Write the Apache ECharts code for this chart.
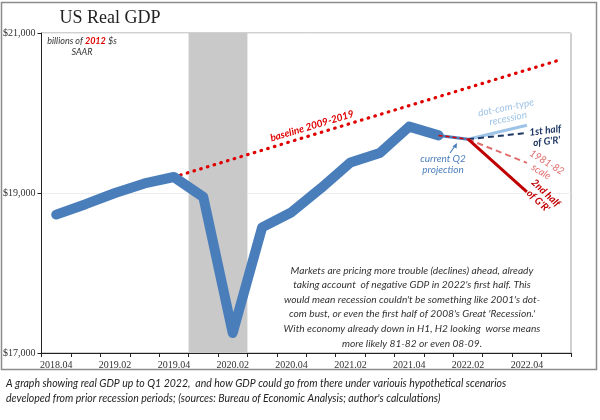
<!DOCTYPE html>
<html>
<head>
<meta charset="utf-8">
<script src="https://cdn.jsdelivr.net/npm/echarts@6/dist/echarts.min.js"></script>
<style>
  html, body { margin: 0; padding: 0; background: #fff; }
  #chart { width: 600px; height: 420px; }
</style>
</head>
<body>
<div id="chart"></div>
<script>
// quarters on the x axis (last one has no label)
var quarters = ['2018.04', '2019.01', '2019.02', '2019.03', '2019.04',
  '2020.01', '2020.02', '2020.03', '2020.04', '2021.01', '2021.02',
  '2021.03', '2021.04', '2022.01', '2022.02', '2022.03', '2022.04', '2023.01']

// real GDP, billions of 2012 $, SAAR
var gdp = [18730, 18860, 19000, 19120, 19200, 18950, 17250, 18570, 18760,
  19060, 19380, 19500, 19830, 19720, null, null, null, null]

// 2009-2019 trend line (two end points, joined)
var baseline = [null, null, null, null, 19200, null, null, null, null,
  null, null, null, null, null, null, null, null, 20650]

// projections
var q2Projection = [null, null, null, null, null, null, null, null, null,
  null, null, null, null, 19720, 19672, null, null, null]
var dotCom = [null, null, null, null, null, null, null, null, null,
  null, null, null, null, null, 19672, null, 19847, null]
var firstHalfGR = [null, null, null, null, null, null, null, null, null,
  null, null, null, null, null, 19672, null, 19751, null]
var scale8182 = [null, null, null, null, null, null, null, null, null,
  null, null, null, null, null, 19672, null, 19376, null]
var secondHalfGR = [null, null, null, null, null, null, null, null, null,
  null, null, null, null, null, 19672, null, 19014, null]

// COVID recession shading
var recession = [null, null, null, null, null, 21000, 21000, null, null,
  null, null, null, null, null, null, null, null, null]

var yTicks = [17000, 19000, 21000]

var noteLines = [
  'Markets are pricing more trouble (declines) ahead, already',
  "taking account  of negative GDP in 2022's first half. This",
  "would mean recession couldn't be something like 2001's dot-",
  "com bust, or even the first half of 2008's Great 'Recession.'",
  'With economy already down in H1, H2 looking  worse means',
  'more likely 81-82 or even 08-09.'
]
var captionLines = [
  'A graph showing real GDP up to Q1 2022,  and how GDP could go from there under variouis hypothetical scenarios',
  "developed from prior recession periods; (sources: Bureau of Economic Analysis; author's calculations)"
]

var sans = 'Lato, "Open Sans", sans-serif'
var serif = '"Liberation Serif", "DejaVu Serif", serif'

function projLine(data, color, width, type, z) {
  return {
    type: 'line',
    data: data,
    connectNulls: true,
    symbol: 'none',
    z: z,
    lineStyle: { color: color, width: width, type: type }
  }
}

function italicText(x, y, text, color, size, rot, bold) {
  return {
    type: 'text',
    x: x,
    y: y,
    rotation: rot || 0,
    z: 20,
    style: {
      text: text,
      fill: color,
      font: 'italic ' + (bold ? 'bold ' : '') + size + 'px ' + sans,
      textAlign: 'center',
      textVerticalAlign: 'middle',
      lineHeight: size + 1
    }
  }
}

var chart = echarts.init(document.getElementById('chart'))

var option = {
  animation: false,
  backgroundColor: '#fff',
  grid: {
    left: 40,
    right: 29,
    top: 33,
    bottom: 67,
    show: true,
    borderColor: '#a0a0a0',
    borderWidth: 1
  },
  xAxis: {
    type: 'category',
    data: quarters,
    boundaryGap: true,
    axisLine: { lineStyle: { color: '#222', width: 1 } },
    axisTick: { show: true, interval: 0, length: 4, lineStyle: { color: '#222' } },
    axisLabel: {
      interval: 1,
      margin: 7,
      color: '#333',
      fontFamily: serif,
      fontSize: 10
    },
    splitLine: { show: false }
  },
  yAxis: {
    type: 'value',
    min: yTicks[0],
    max: yTicks[yTicks.length - 1],
    interval: 2000,
    axisLine: { show: true, lineStyle: { color: '#222', width: 1 } },
    axisTick: { show: true, length: 4, lineStyle: { color: '#222' } },
    axisLabel: {
      margin: 6,
      color: '#333',
      fontFamily: serif,
      fontSize: 10,
      formatter: function (v) {
        return '$' + v.toLocaleString('en-US')
      }
    },
    splitLine: { show: true, lineStyle: { color: '#ececec' } }
  },
  series: [
    {
      type: 'bar',
      data: recession,
      barCategoryGap: '0%',
      barWidth: '100%',
      z: 1,
      itemStyle: { color: '#c9c9c9' }
    },
    {
      type: 'line',
      data: baseline,
      connectNulls: true,
      symbol: 'none',
      z: 3,
      lineStyle: { color: '#e00000', width: 3.2, type: [0.6, 6.4], cap: 'round' }
    },
    {
      type: 'line',
      data: gdp,
      symbol: 'none',
      z: 4,
      lineStyle: { color: '#4a7ebb', width: 10, cap: 'round', join: 'round' }
    },
    projLine(q2Projection, '#4a7ebb', 3, 'solid', 5),
    projLine(q2Projection, '#e00000', 1.5, [4, 3], 6),
    projLine(dotCom, '#9dc3e6', 3, 'solid', 5),
    projLine(firstHalfGR, '#1f3864', 2, [6, 4], 5),
    projLine(scale8182, '#e06c6c', 2, [6, 4], 5),
    projLine(secondHalfGR, '#c00000', 3, 'solid', 5)
  ],
  graphic: [
    {
      type: 'rect',
      z: 0,
      silent: true,
      shape: { x: 1.5, y: 2.5, width: 595, height: 367 },
      style: { fill: 'none', stroke: '#8c8c8c', lineWidth: 1.5 }
    },
    {
      type: 'text',
      x: 110,
      y: 18,
      style: {
        text: 'US Real GDP',
        fill: '#222',
        font: '18px ' + serif,
        textAlign: 'center',
        textVerticalAlign: 'middle'
      }
    },
    {
      type: 'text',
      x: 82,
      y: 47,
      z: 20,
      style: {
        text: '{a|billions of }{b|2012}{a| $s}\n{a|SAAR}',
        textAlign: 'center',
        textVerticalAlign: 'middle',
        rich: {
          a: { font: 'italic 9px ' + sans, fill: '#333', lineHeight: 11 },
          b: { font: 'italic bold 9px ' + sans, fill: '#e00000', lineHeight: 11 }
        }
      }
    },
    italicText(312, 126, 'baseline 2009-2019', '#e00000', 10, 0.29, true),
    italicText(507, 113, 'dot-com-type\nrecession', '#9dc3e6', 10, 0.2, false),
    italicText(546, 136, "1st half\nof G'R'", '#1f3864', 10, 0.12, true),
    italicText(544, 167, '1981-82\nscale', '#e06c6c', 10, -0.55, false),
    italicText(542, 197, "2nd half\nof G'R'", '#c00000', 10, -0.75, true),
    italicText(443, 164, 'current Q2\nprojection', '#4a7ebb', 10, 0, false),
    {
      type: 'line',
      z: 20,
      shape: { x1: 450, y1: 153, x2: 455, y2: 146 },
      style: { stroke: '#4a7ebb', lineWidth: 1.2 }
    },
    {
      type: 'polygon',
      z: 20,
      shape: { points: [[457, 143], [452.5, 146.2], [456.6, 148.6]] },
      style: { fill: '#4a7ebb' }
    },
    {
      type: 'text',
      x: 412,
      y: 263,
      z: 20,
      style: {
        text: noteLines.join('\n'),
        fill: '#333',
        font: 'italic 10.2px ' + sans,
        textAlign: 'center',
        textVerticalAlign: 'top',
        lineHeight: 14.6
      }
    },
    {
      type: 'text',
      x: 6,
      y: 376,
      style: {
        text: captionLines.join('\n'),
        fill: '#222',
        font: 'italic 10.5px ' + sans,
        textAlign: 'left',
        textVerticalAlign: 'top',
        lineHeight: 15
      }
    }
  ]
}

chart.setOption(option)
</script>
</body>
</html>
